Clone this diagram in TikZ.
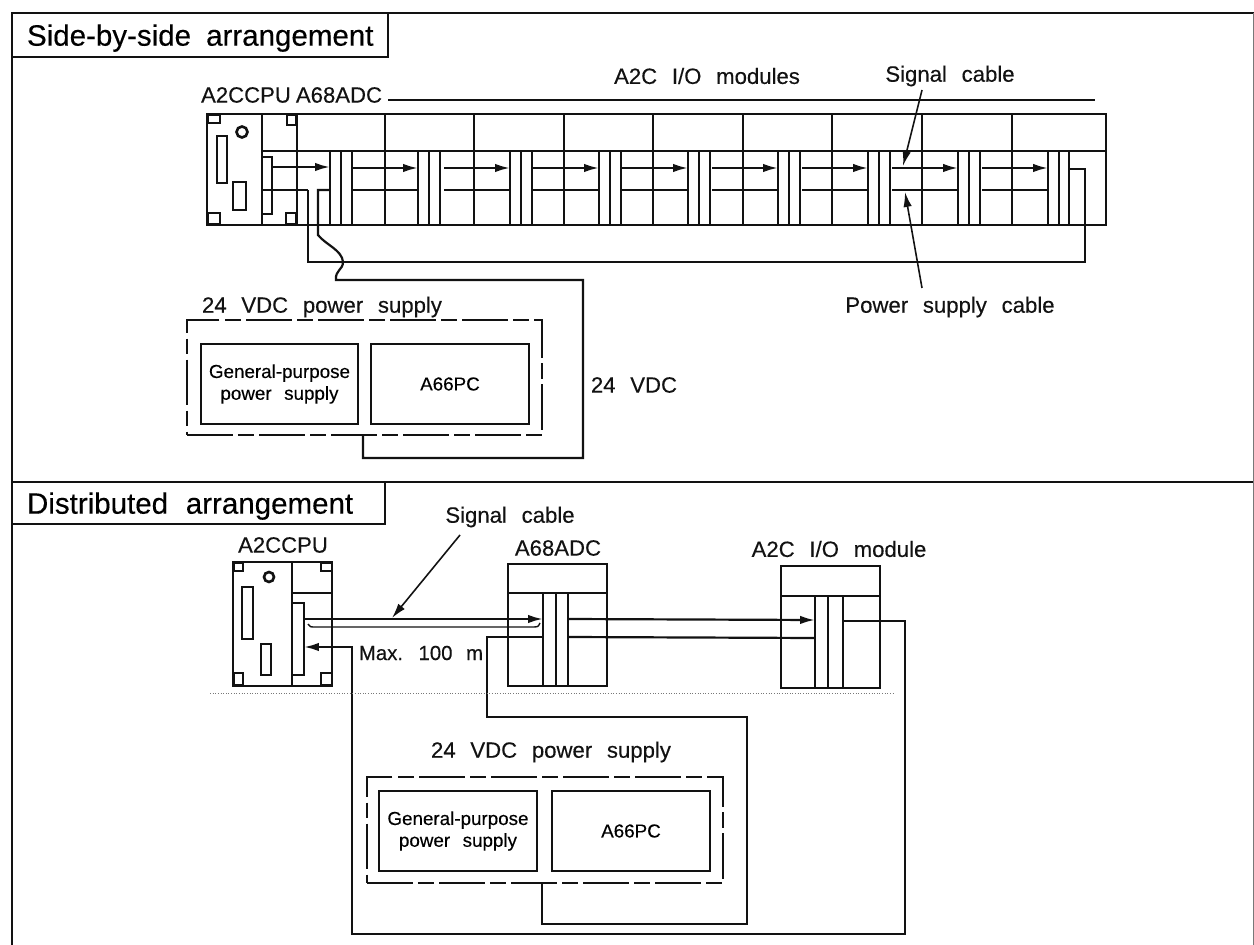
\documentclass[tikz,border=0pt]{standalone}
\usepackage{fontspec}
\setmainfont[WordSpace=2.4,FakeBold=0.3]{Liberation Sans}
\usepackage{xcolor}
\usetikzlibrary{arrows.meta,positioning,calc}
\definecolor{scanblack}{RGB}{18,18,18}
\definecolor{scangray}{RGB}{120,120,120}
\newcommand{\headsize}{\fontsize{16.8}{19}\selectfont}
\newcommand{\labelsize}{\fontsize{12.6}{14}\selectfont}
\newcommand{\smallsize}{\fontsize{10.7}{12.4}\selectfont}
\begin{document}
\begin{tikzpicture}[
    x=0.02cm, y=-0.02cm,
    frameline/.style={draw=scanblack, line width=1.6pt},
    heavy/.style={draw=scanblack, line width=1.5pt},
    wire/.style={draw=scanblack, line width=1.25pt},
    sigarr/.style={draw=scanblack, line width=1.25pt, -{Latex[length=8.5pt,width=4.8pt]}},
    pointer/.style={draw=scanblack, line width=0.9pt, -{Latex[length=8.5pt,width=4.8pt]}},
    hwbox/.style={draw=scanblack, line width=1.5pt, fill=white, inner sep=0pt},
    dashbox/.style={draw=scanblack, line width=1.25pt, dash pattern=on 26pt off 3pt on 9pt off 3pt, inner sep=0pt},
    unitbox/.style={draw=scanblack, line width=1.25pt, inner sep=0pt, align=center, font=\smallsize},
    heading/.style={draw=scanblack, line width=1.6pt, inner xsep=0.3cm, inner ysep=0pt, text depth=0pt, align=left, font=\headsize},
    lbl/.style={inner sep=0pt, font=\labelsize, text=scanblack}
  ]
    \useasboundingbox (0,0) rectangle (1254,945);

    \draw[frameline] (12,945) -- (12,13) -- (1254,13);
    \draw[frameline] (12,482) -- (1254,482);
    \draw[draw=scangray, line width=0.5pt] (1253,13) -- (1253,945);
    \node[heading, text width=6.92cm, minimum height=0.88cm] (headside) at (200,35) {\mbox{Side-by-side\hspace{3pt} arrangement}};
    \node[heading, text width=6.86cm, minimum height=0.84cm] (headdist) at (198.5,503) {\mbox{Distributed\hspace{4.5pt} arrangement}};

    \node[lbl] (topcpu) at (246,95) {A2CCPU};
    \node[lbl] (topadc) at (339,95) {A68ADC};
    \node[lbl] (topmods) at (707,76) {A2C I/O modules};
    \node[lbl] (topsig) at (950,76) {Signal cable};
    \node[lbl] (toppwr) at (950,307) {Power supply cable};
    \node[lbl] (toppsu) at (322,307) {24 VDC power supply};
    \node[lbl] (topvdc) at (634,385) {24 VDC};

    \coordinate (rangeL) at (388,100);
    \coordinate (rangeR) at (1095,100);
    \draw[wire] (rangeL) -- (rangeR);

    \node[hwbox, minimum width=17.98cm, minimum height=2.22cm] (strip) at (656.5,169.5) {};
    \draw[heavy] (262,114) -- (262,225);
    \draw[heavy] (262,151) -- (1106,151);
    \foreach \x in {297,385,474,564,653,743,832,922,1012}
      \draw[heavy] (\x,114) -- (\x,225);
    \foreach \x/\n in {330/418,418/510,510/599,599/688,688/778,778/868,868/958,958/1048} {
      \draw[heavy] (\x,151) -- (\x,225);
      \draw[heavy] (\x+11,151) -- (\x+11,225);
      \draw[heavy] (\x+22,151) -- (\x+22,225);
      \draw[sigarr] (\n-66,168) -- (\n,168);
      \draw[wire] (\n-66,190) -- (\n,190);
    }
    \foreach \x in {1048,1059,1069}
      \draw[heavy] (\x,151) -- (\x,225);

    \draw[heavy] (208,115) rectangle (220,123);
    \draw[heavy] (287,115) rectangle (296,125);
    \draw[heavy] (208,213) rectangle (220,224);
    \draw[heavy] (286,213) rectangle (296,224);
    \draw[heavy] (242,132) circle (5.5);
    \draw[heavy] (217,136) rectangle (227,183);
    \draw[heavy] (233,182) rectangle (246,210);
    \draw[heavy, fill=white] (262,157) rectangle (272,214);
    \draw[sigarr] (272,167) -- (330,167);
    \draw[wire] (262,190) -- (308,190);

    \node[dashbox, minimum width=7.1cm, minimum height=2.3cm] (toppsubox) at (364.5,377.5) {};
    \node[unitbox, minimum width=3.14cm, minimum height=1.6cm] (topgen) at (279.5,384) {General-purpose\\power supply};
    \node[unitbox, minimum width=3.16cm, minimum height=1.6cm] (toppc) at (450,384) {A66PC};

    \coordinate (topret) at (363,435);
    \draw[wire] (1069,169) -- (1085,169) -- (1085,262) -- (308,262) -- (308,190);
    \draw[wire] (330,190) -- (318,190) -- (318,235) .. controls (326,245) and (342,250) .. (343,262) .. controls (343,270) and (335,270) .. (336,280) -- (583,280) -- (583,458) -- (363,458) -- (topret);

    \draw[pointer] (922,90) -- (903,166);
    \draw[pointer] (922,288) -- (905,192);

    \node[lbl] (distcpu) at (283,545) {A2CCPU};
    \node[lbl] (distadc) at (558,548) {A68ADC};
    \node[lbl] (distmod) at (839,549) {A2C I/O module};
    \node[lbl] (distsig) at (510,517) {Signal cable};
    \node[lbl, font=\fontsize{11.6}{14}\selectfont] (distmax) at (421,653) {Max. 100 m};
    \node[lbl] (distpsu) at (551,752) {24 VDC power supply};

    \node[hwbox, minimum width=1.98cm, minimum height=2.48cm] (cpu) at (282.5,624) {};
    \draw[heavy] (292,562) -- (292,686);
    \draw[heavy] (292,593) -- (332,593);
    \draw[heavy] (234,563) rectangle (243,571);
    \draw[heavy] (321,563) rectangle (332,571);
    \draw[heavy] (234,673) rectangle (243,685);
    \draw[heavy] (321,673) rectangle (332,685);
    \draw[heavy] (269,577) circle (5);
    \draw[heavy] (242,587) rectangle (253,639);
    \draw[heavy] (261,644) rectangle (271,675);
    \draw[heavy] (293,603) -- (304,603) -- (304,675) -- (293,675);

    \node[hwbox, minimum width=1.98cm, minimum height=2.44cm] (adc) at (557.5,625) {};
    \draw[heavy] (508,593) -- (607,593);
    \foreach \x in {543,556,568}
      \draw[heavy] (\x,593) -- (\x,686);

    \node[hwbox, minimum width=1.98cm, minimum height=2.44cm] (iomod) at (830.5,627) {};
    \draw[heavy] (781,596) -- (880,596);
    \foreach \x in {815,828,843}
      \draw[heavy] (\x,596) -- (\x,688);

    \draw[sigarr] (304,619) -- (543,619);
    \draw[wire, line width=0.8pt] (308,624) .. controls (310,627) .. (316,627) -- (532,627) .. controls (538,627) .. (540,623);
    \draw[sigarr] (568,619) -- (815,620);
    \draw[wire] (568,637) -- (815,638);

    \node[dashbox, minimum width=7.12cm, minimum height=2.12cm] (distpsubox) at (545,830) {};
    \node[unitbox, minimum width=3.16cm, minimum height=1.6cm] (distgen) at (458,831) {General-purpose\\power supply};
    \node[unitbox, minimum width=3.16cm, minimum height=1.6cm] (distpc) at (631,831) {A66PC};

    \coordinate (distret) at (542,883);
    \draw[wire] (543,637) -- (487,637) -- (487,717) -- (747,717) -- (747,924) -- (542,924) -- (distret);
    \draw[sigarr] (843,621) -- (905,621) -- (905,934) -- (352,934) -- (352,647) -- (304,647);

    \draw[pointer] (460,535) -- (392,618);
    \draw[draw=scangray, line width=0.5pt, densely dotted] (210,693) -- (895,693);
  \end{tikzpicture}
\end{document}
